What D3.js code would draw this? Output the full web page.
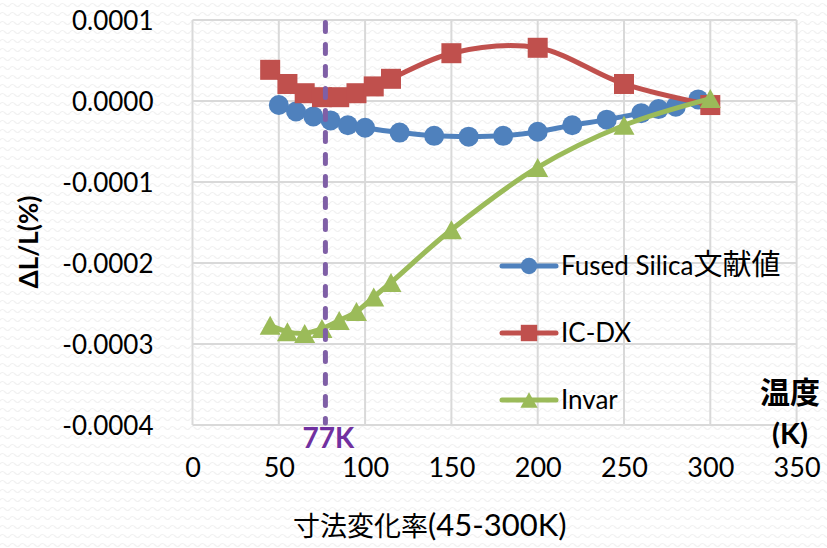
<!DOCTYPE html>
<html>
<head>
<meta charset="utf-8">
<script src="https://cdn.jsdelivr.net/npm/d3@7/dist/d3.min.js"></script>
<style>
  html, body { margin: 0; padding: 0; background: #fff; }
  svg { display: block; }
</style>
</head>
<body>
<svg id="chart" width="827" height="548"></svg>
<script>
// Temperature (K) and relative length change ΔL/L (%)
const fusedT = [50, 60, 70, 80, 90, 100, 120, 140, 160, 180, 200, 220, 240, 260, 270, 280, 293];
const fusedV = [-0.000005, -0.000013, -0.000019, -0.000024, -0.000030, -0.000033, -0.000039, -0.000043,
                -0.000044, -0.000043, -0.000038, -0.000030, -0.000023, -0.000015, -0.000010, -0.000007, 0.000002];

const icdxT = [45, 55, 65, 75, 85, 95, 105, 115, 150, 200, 250, 300];
const icdxV = [0.0000385, 0.000021, 0.0000096, 0.0000047, 0.0000047, 0.0000096, 0.000018, 0.0000274,
               0.000059, 0.0000657, 0.000021, -0.000005];

const invarT = [45, 55, 65, 75, 85, 95, 105, 115, 150, 200, 250, 300];
const invarV = [-0.000277, -0.000285, -0.000287, -0.000281, -0.000271, -0.000260, -0.000242, -0.000224,
                -0.000159, -0.000082, -0.000030, 0.000003];

const seriesNames = ["Fused Silica文献値", "IC-DX", "Invar"];
const xTickValues = [0, 50, 100, 150, 200, 250, 300, 350];
const yTickValues = [0.0001, 0, -0.0001, -0.0002, -0.0003, -0.0004];
const yTickLabels = ["0.0001", "0.0000", "-0.0001", "-0.0002", "-0.0003", "-0.0004"];
const markerTemp = 77;
const markerLabel = "77K";

const svg = d3.select("#chart");
const W = 827, H = 548;
const latin = "Lato, 'Noto Sans CJK JP', sans-serif";
const cjk = "'Noto Sans CJK JP', 'Noto Sans CJK SC', sans-serif";

// faint wavy background texture
const defs = svg.append("defs");
const pat = defs.append("pattern").attr("id", "wave")
  .attr("patternUnits", "userSpaceOnUse").attr("width", 10).attr("height", 9);
pat.append("path").attr("d", "M0,5 Q2.5,2 5,5 T10,5")
  .attr("fill", "none").attr("stroke", "#f1f1f1").attr("stroke-width", 1.2);
svg.append("rect").attr("width", W).attr("height", H).attr("fill", "#fff");
svg.append("rect").attr("width", W).attr("height", H).attr("fill", "url(#wave)");

const x = d3.scaleLinear().domain([0, 350]).range([192.5, 796.6]);
const y = d3.scaleLinear().domain([-0.0004, 0.0001]).range([425, 20]);

// gridlines
const grid = svg.append("g").attr("stroke", "#d9d9d9").attr("stroke-width", 2);
grid.selectAll("line.h").data(yTickValues).join("line")
  .attr("x1", x(0)).attr("x2", x(350)).attr("y1", d => y(d)).attr("y2", d => y(d));
grid.selectAll("line.v").data(xTickValues).join("line")
  .attr("x1", d => x(d)).attr("x2", d => x(d)).attr("y1", y(0.0001)).attr("y2", y(-0.0004));

// y axis
const yAxis = svg.append("g").attr("transform", `translate(${x(0)},0)`)
  .call(d3.axisLeft(y).tickValues(yTickValues).tickSize(0).tickPadding(39)
    .tickFormat((d, i) => yTickLabels[i]));
yAxis.select(".domain").remove();
yAxis.selectAll("text").attr("font-family", latin).attr("font-size", 26).attr("fill", "#000")
  .attr("dy", "0.36em");

// x axis
const xAxis = svg.append("g").attr("transform", `translate(0,${y(-0.0004)})`)
  .call(d3.axisBottom(x).tickValues(xTickValues).tickSize(0).tickFormat(d3.format("d")));
xAxis.select(".domain").remove();
xAxis.selectAll("text").attr("font-family", latin).attr("font-size", 27).attr("fill", "#000")
  .attr("y", 42).attr("dy", "0.36em");

// axis titles
svg.append("text").attr("transform", `translate(29,242) rotate(-90)`)
  .attr("text-anchor", "middle").attr("dy", "0.36em")
  .attr("font-family", latin).attr("font-weight", "bold").attr("font-size", 26)
  .text("ΔL/L(%)");

const xt = svg.append("text").attr("x", 293).attr("y", 530).attr("dy", "0.36em")
  .attr("font-family", latin).attr("fill", "#000");
xt.append("tspan").attr("font-family", cjk).attr("font-size", 27).text("寸法変化率");
xt.append("tspan").attr("font-size", 31).text("(45-300K)");

svg.append("text").attr("x", 790).attr("y", 392).attr("dy", "0.36em").attr("text-anchor", "middle")
  .attr("font-family", cjk).attr("font-weight", "bold").attr("font-size", 30).text("温度");
svg.append("text").attr("x", 790).attr("y", 434).attr("dy", "0.36em").attr("text-anchor", "middle")
  .attr("font-family", latin).attr("font-weight", "bold").attr("font-size", 29).text("(K)");

// marker shapes
function triPath(cx, cy, w, h) {
  const p = d3.path();
  p.moveTo(cx, cy - h / 2); p.lineTo(cx + w / 2, cy + h / 2); p.lineTo(cx - w / 2, cy + h / 2); p.closePath();
  return p.toString();
}

const series = [
  { name: seriesNames[0], t: fusedT, v: fusedV, color: "#4f81bd", shape: "circle" },
  { name: seriesNames[1], t: icdxT, v: icdxV, color: "#c0504d", shape: "square" },
  { name: seriesNames[2], t: invarT, v: invarV, color: "#9bbb59", shape: "triangle" }
];

const line = d3.line().x(d => x(d[0])).y(d => y(d[1])).curve(d3.curveCatmullRom.alpha(0.5));

function drawMarker(g, shape, cx, cy, color, scale) {
  if (shape === "circle") {
    g.append("circle").attr("cx", cx).attr("cy", cy).attr("r", 10 * scale).attr("fill", color);
  } else if (shape === "square") {
    const s = 20 * scale;
    g.append("rect").attr("x", cx - s / 2).attr("y", cy - s / 2).attr("width", s).attr("height", s).attr("fill", color);
  } else {
    g.append("path").attr("d", triPath(cx, cy, 21 * scale, 19 * scale)).attr("fill", color);
  }
}

series.forEach(s => {
  const pts = s.t.map((t, i) => [t, s.v[i]]);
  const g = svg.append("g");
  g.append("path").datum(pts).attr("d", line).attr("fill", "none")
    .attr("stroke", s.color).attr("stroke-width", 5).attr("stroke-linejoin", "round");
  pts.forEach(p => drawMarker(g, s.shape, x(p[0]), y(p[1]), s.color, 1));
});

// 77 K reference line
svg.append("line").attr("x1", x(markerTemp)).attr("x2", x(markerTemp))
  .attr("y1", y(0.0001) + 2.5).attr("y2", y(-0.0004) - 2)
  .attr("stroke", "#7f5fa6").attr("stroke-width", 5).attr("stroke-linecap", "round")
  .attr("stroke-dasharray", "9,13");
svg.append("text").attr("x", x(markerTemp) + 3).attr("y", 438).attr("dy", "0.36em").attr("text-anchor", "middle")
  .attr("font-family", latin).attr("font-weight", "bold").attr("font-size", 28).attr("fill", "#7030a0")
  .text(markerLabel);

// legend
const legendY = [266, 333, 400];
series.forEach((s, i) => {
  const g = svg.append("g");
  const ly = legendY[i];
  g.append("line").attr("x1", 502).attr("x2", 556).attr("y1", ly).attr("y2", ly)
    .attr("stroke", s.color).attr("stroke-width", 5).attr("stroke-linecap", "round");
  drawMarker(g, s.shape, 529, ly, s.color, 0.82);
  const t = g.append("text").attr("x", 561).attr("y", ly).attr("dy", "0.36em")
    .attr("font-family", latin).attr("font-size", 26).attr("fill", "#000");
  const m = s.name.match(/^([\x00-\x7F]*)(.*)$/);
  t.append("tspan").text(m[1]);
  if (m[2]) t.append("tspan").attr("font-family", cjk).attr("font-size", 29).text(m[2]);
});
</script>
</body>
</html>
